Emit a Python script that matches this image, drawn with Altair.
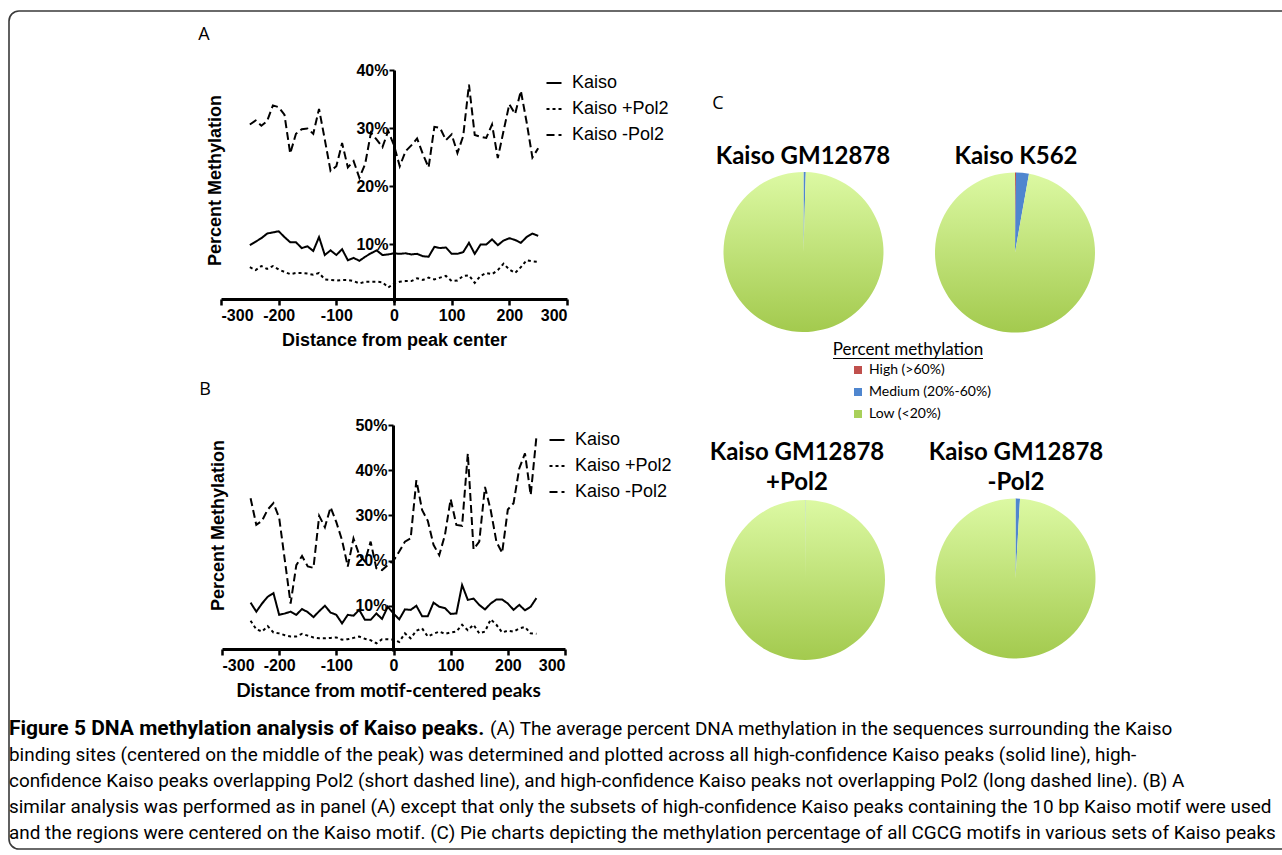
import altair as alt
import pandas as pd

# ---------------- data ----------------
distance = [-250, -240, -230, -220, -210, -200, -190, -180, -170, -160, -150,
            -140, -130, -120, -110, -100, -90, -80, -70, -60, -50,
            -40, -30, -20, -10, 0, 10, 20, 30, 40, 50,
            60, 70, 80, 90, 100, 110, 120, 130, 140, 150,
            160, 170, 180, 190, 200, 210, 220, 230, 240, 250]

series_names = ["Kaiso", "Kaiso +Pol2", "Kaiso -Pol2"]

a_kaiso = [9.8, 10.4, 11.0, 11.8, 12.0, 12.2, 11.2, 10.3, 10.3, 9.3, 9.6,
           8.8, 11.2, 8.1, 8.9, 8.1, 9.1, 7.2, 7.6, 7.1, 7.8,
           8.4, 8.9, 8.1, 8.2, 8.4, 8.3, 8.4, 8.2, 8.3, 7.9,
           7.8, 9.5, 9.3, 9.4, 8.3, 8.3, 8.6, 10.2, 8.3, 9.9,
           9.9, 10.8, 9.8, 10.6, 11.0, 10.7, 10.2, 11.2, 11.8, 11.4]
a_plus_pol2 = [6.0, 5.5, 6.2, 5.7, 6.2, 5.6, 5.2, 4.8, 5.0, 5.0, 4.9,
               4.7, 5.0, 3.9, 3.8, 3.7, 3.8, 3.8, 3.6, 3.2, 3.5,
               3.5, 3.5, 3.4, 2.5, 3.2, 3.5, 3.6, 3.6, 4.1, 3.8,
               4.2, 3.9, 4.2, 4.5, 3.6, 3.7, 4.5, 4.6, 3.3, 4.5,
               5.0, 4.8, 5.5, 6.6, 5.6, 5.0, 6.0, 7.2, 7.0, 6.9]
a_minus_pol2 = [30.6, 31.3, 30.4, 31.2, 33.9, 33.6, 32.3, 25.6, 29.0, 29.8, 29.9,
                29.0, 33.3, 28.0, 22.6, 23.4, 27.4, 23.2, 24.3, 21.4, 23.8,
                29.2, 28.0, 26.7, 29.5, 27.0, 23.4, 26.0, 27.0, 28.2, 25.5,
                23.2, 30.2, 30.0, 27.9, 28.9, 25.7, 28.6, 37.5, 28.8, 28.5,
                28.3, 30.6, 24.8, 29.5, 34.1, 32.4, 36.4, 31.0, 24.9, 26.5]

b_kaiso = [10.7, 8.7, 10.5, 12.0, 12.8, 8.0, 8.3, 8.7, 8.0, 9.3, 8.6,
           7.5, 8.8, 10.0, 8.5, 8.0, 6.1, 8.0, 7.8, 9.1, 6.9,
           6.9, 8.3, 7.1, 9.8, 8.3, 7.0, 9.2, 9.1, 10.0, 7.7,
           7.7, 10.7, 9.8, 9.5, 8.2, 8.3, 14.6, 11.3, 11.6, 10.2,
           9.2, 10.5, 11.4, 11.4, 10.5, 9.1, 10.2, 9.0, 9.8, 11.7]
b_plus_pol2 = [6.7, 4.8, 4.3, 5.5, 4.1, 3.9, 3.5, 3.2, 3.2, 3.8, 3.4,
               3.0, 2.8, 2.8, 2.9, 3.0, 2.5, 2.6, 2.9, 3.2, 2.7,
               2.4, 1.7, 2.6, 2.6, 2.5, 2.0, 3.9, 2.8, 4.5, 5.0,
               3.2, 3.8, 4.3, 3.8, 4.1, 4.3, 5.8, 4.6, 5.8, 3.9,
               4.3, 7.0, 5.8, 4.1, 4.5, 4.3, 5.0, 5.3, 3.9, 3.8]
b_minus_pol2 = [33.8, 27.9, 28.8, 31.3, 32.7, 29.5, 20.0, 10.5, 19.0, 21.0, 18.7,
                18.4, 29.9, 27.4, 31.8, 28.5, 24.5, 18.7, 24.9, 21.3, 19.8,
                24.2, 18.3, 17.9, 19.0, 20.0, 22.0, 24.2, 24.9, 37.8, 31.2,
                28.8, 23.5, 21.2, 25.7, 33.6, 27.9, 27.7, 43.7, 22.5, 24.2,
                36.3, 31.2, 24.2, 21.7, 31.3, 32.7, 40.4, 43.7, 34.5, 47.4]

x_ticks = [-300, -200, -100, 0, 100, 200, 300]
a_y_ticks = [10, 20, 30, 40]
b_y_ticks = [10, 20, 30, 40, 50]

pie_names = ["Kaiso GM12878", "Kaiso K562", "Kaiso GM12878 +Pol2", "Kaiso GM12878 -Pol2"]
meth_levels = ["High (>60%)", "Medium (20%-60%)", "Low (<20%)"]
meth_colors = ["#c0504d", "#4f86cf", "#a9d05a"]
pie_gm12878 = [0.0, 0.45, 99.55]
pie_k562 = [0.2, 2.6, 97.2]
pie_plus_pol2 = [0.0, 0.08, 99.92]
pie_minus_pol2 = [0.0, 0.9, 99.1]

caption_bold = "Figure 5 DNA methylation analysis of Kaiso peaks."
caption_lines = [
    "(A) The average percent DNA methylation in the sequences surrounding the Kaiso",
    "binding sites (centered on the middle of the peak) was determined and plotted across all high-confidence Kaiso peaks (solid line), high-",
    "confidence Kaiso peaks overlapping Pol2 (short dashed line), and high-confidence Kaiso peaks not overlapping Pol2 (long dashed line). (B) A",
    "similar analysis was performed as in panel (A) except that only the subsets of high-confidence Kaiso peaks containing the 10 bp Kaiso motif were used",
    "and the regions were centered on the Kaiso motif. (C) Pie charts depicting the methylation percentage of all CGCG motifs in various sets of Kaiso peaks",
]

# ---------------- helpers ----------------
W, H = 1282, 855
AX_FONT = "Liberation Sans"
CAP_FONT = "Roboto"
CAP_SIZE = 18.9


def long_df(s1, s2, s3):
    rows = []
    for name, vals in zip(series_names, [s1, s2, s3]):
        for d, v in zip(distance, vals):
            rows.append({"distance": d, "series": name, "pct": v})
    return pd.DataFrame(rows)


def line_panel(df, xrange, yrange, ydomain, yticks, x_axis_y, y_axis_x,
               xtitle, xtitle_font, xtitle_size, xtitle_x, ytitle_pos, legend_xy):
    x_axis = alt.Axis(orient="bottom", offset=x_axis_y - H, values=x_ticks, grid=False,
                      labelExpr="datum.value < 0 ? '-' + abs(datum.value) : '' + datum.value",
                      domainColor="black", domainWidth=3, tickColor="black", tickWidth=2.5,
                      tickSize=6, labelFont=AX_FONT, labelFontWeight="bold", labelFontSize=16,
                      labelColor="black", labelPadding=2, title=xtitle, titleFont=xtitle_font,
                      titleFontSize=xtitle_size, titleFontWeight="bold", titleColor="black",
                      titleX=xtitle_x, titleY=41, titleBaseline="middle", titleAlign="center",
                      zindex=2)
    y_axis = alt.Axis(orient="left", offset=-y_axis_x, values=yticks, grid=False,
                      labelExpr="datum.value + '%'",
                      domainColor="black", domainWidth=3, tickColor="black", tickWidth=2,
                      tickSize=5, labelFont=AX_FONT, labelFontWeight="bold", labelFontSize=16,
                      labelColor="black", labelPadding=1, title="Percent Methylation",
                      titleFont=AX_FONT, titleFontSize=18, titleFontWeight="bold",
                      titleColor="black", titleX=ytitle_pos[0] - y_axis_x, titleY=ytitle_pos[1],
                      titleAngle=270, titleBaseline="middle", titleAlign="center", zindex=2)
    legend = alt.Legend(orient="none", legendX=legend_xy[0], legendY=legend_xy[1], title=None,
                        symbolType="stroke", symbolSize=225, symbolStrokeWidth=2,
                        symbolStrokeColor="black", labelFont=AX_FONT, labelFontSize=18,
                        labelColor="black", labelOffset=9, rowPadding=8, padding=0)
    return alt.Chart(df).mark_line(color="black", strokeWidth=2).encode(
        x=alt.X("distance:Q", scale=alt.Scale(domain=[-300, 300], range=xrange, nice=False, zero=False),
                axis=x_axis),
        y=alt.Y("pct:Q", scale=alt.Scale(domain=ydomain, range=yrange, nice=False, zero=False),
                axis=y_axis),
        strokeDash=alt.StrokeDash("series:N",
                                  scale=alt.Scale(domain=series_names, range=[[1, 0], [3, 3], [8, 4]]),
                                  legend=legend),
    )


def txt(t, x, y, size, font="Lato", weight="normal", align="left", baseline="alphabetic"):
    return alt.Chart(alt.Data(values=[{"t": t}])).mark_text(
        font=font, fontSize=size, fontWeight=weight, align=align, baseline=baseline, color="black"
    ).encode(text="t:N", x=alt.value(x), y=alt.value(y))


GRAD = {"gradient": "linear", "x1": 0, "y1": 0, "x2": 0, "y2": 1,
        "stops": [{"offset": 0, "color": "#dcf9a3"}, {"offset": 1, "color": "#a3ca4e"}]}

pie_rows = []
for pname, vals in zip(pie_names, [pie_gm12878, pie_k562, pie_plus_pol2, pie_minus_pol2]):
    for i, (lvl, v) in enumerate(zip(meth_levels, vals)):
        pie_rows.append({"pie": pname, "level": lvl, "rank": i, "share": v})
pie_df = pd.DataFrame(pie_rows)

pie_legend = alt.Legend(orient="none", legendX=851, legendY=363, title=None, symbolType="square",
                        symbolSize=64, symbolStrokeWidth=0, labelFont="Lato", labelFontSize=14,
                        labelColor="black", labelOffset=4, rowPadding=8, padding=0)


def pie(name, cx, cy):
    return alt.Chart(pie_df).transform_filter(alt.datum.pie == name).mark_arc(radius=80).encode(
        theta=alt.Theta("share:Q", stack=True),
        order=alt.Order("rank:Q"),
        fill=alt.condition(alt.datum.level == "Low (<20%)", alt.value(GRAD),
                           alt.Fill("level:N", scale=alt.Scale(domain=meth_levels, range=meth_colors),
                                    legend=pie_legend)),
        x=alt.value(cx), y=alt.value(cy),
    )


# ---------------- layers ----------------
border = alt.Chart(alt.Data(values=[{}])).mark_rect(
    fillOpacity=0, stroke="#3a3a3a", strokeWidth=1.6, cornerRadius=10
).encode(x=alt.value(9), x2=alt.value(1320), y=alt.value(11), y2=alt.value(849))

panel_a = line_panel(long_df(a_kaiso, a_plus_pol2, a_minus_pol2), [221, 567], [302, 70], [0, 40],
                     a_y_ticks, 299, 394, "Distance from peak center", AX_FONT, 18, 394,
                     (215, 180), (545, 74))
panel_b = line_panel(long_df(b_kaiso, b_plus_pol2, b_minus_pol2), [222, 565], [651, 425], [0, 50],
                     b_y_ticks, 649, 393, "Distance from motif-centered peaks", "Lato", 19, 388,
                     (218, 525), (548, 431))

layers = [border, panel_a, panel_b,
          pie(pie_names[0], 803.5, 252), pie(pie_names[1], 1015, 252.5),
          pie(pie_names[2], 805, 580), pie(pie_names[3], 1015.5, 578.5),
          txt("A", 204, 35, 18, font="Open Sans", align="center", baseline="middle"),
          txt("B", 205, 390, 18, font="Open Sans", align="center", baseline="middle"),
          txt("C", 718, 104, 18, font="Open Sans", align="center", baseline="middle"),
          txt("Kaiso GM12878", 803, 164, 24, weight="bold", align="center"),
          txt("Kaiso K562", 1016, 164, 24, weight="bold", align="center"),
          txt("Kaiso GM12878", 797, 460, 24, weight="bold", align="center"),
          txt("+Pol2", 797, 490, 24, weight="bold", align="center"),
          txt("Kaiso GM12878", 1016, 460, 24, weight="bold", align="center"),
          txt("-Pol2", 1016, 490, 24, weight="bold", align="center"),
          txt("Percent methylation", 908, 355, 17, align="center"),
          alt.Chart(alt.Data(values=[{}])).mark_rule(color="black", strokeWidth=1).encode(
              x=alt.value(833), x2=alt.value(983), y=alt.value(358.5)),
          txt(caption_bold, 9, 735, 21, font=CAP_FONT, weight="bold"),
          txt(caption_lines[0], 490, 735, CAP_SIZE, font=CAP_FONT)]
for i, line in enumerate(caption_lines[1:]):
    layers.append(txt(line, 9, 761 + 26 * i, CAP_SIZE, font=CAP_FONT))

chart = alt.layer(*layers).resolve_scale(
    x="independent", y="independent", strokeDash="independent", theta="independent"
).properties(
    width=W, height=H, autosize=alt.AutoSizeParams(type="none"), padding=0, background="white"
).configure_view(strokeWidth=0)

chart.save("out.html", embed_options={"renderer": "svg", "actions": False})
